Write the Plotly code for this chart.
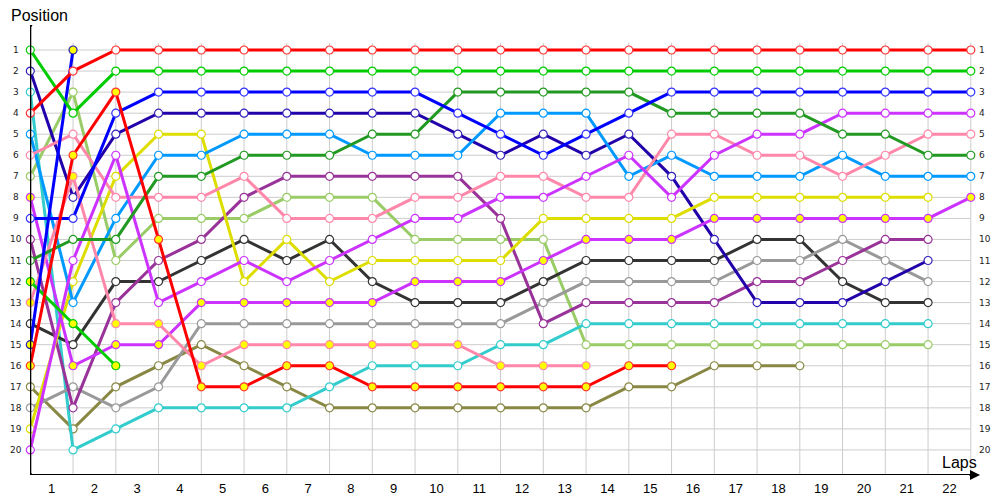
import plotly.graph_objects as go

# ---- data: position per lap (index 0 = start / lap 0) ----
lap_labels = [str(i) for i in range(1, 23)]
position_labels = [str(i) for i in range(1, 21)]

red = [4, 2, 1, 1, 1, 1, 1, 1, 1, 1, 1, 1, 1, 1, 1, 1, 1, 1, 1, 1, 1, 1, 1]
green = [1, 4, 2, 2, 2, 2, 2, 2, 2, 2, 2, 2, 2, 2, 2, 2, 2, 2, 2, 2, 2, 2, 2]
blue = [9, 9, 4, 3, 3, 3, 3, 3, 3, 3, 4, 5, 6, 5, 4, 3, 3, 3, 3, 3, 3, 3, 3]
magenta = [20, 11, 6, 13, 12, 11, 12, 11, 10, 9, 9, 8, 8, 7, 6, 8, 6, 5, 5, 4, 4, 4, 4]
pink = [6, 5, 8, 8, 8, 7, 9, 9, 9, 8, 8, 7, 7, 8, 8, 5, 5, 6, 6, 7, 6, 5, 5]
forest = [11, 10, 10, 7, 7, 6, 6, 6, 5, 5, 3, 3, 3, 3, 3, 4, 4, 4, 4, 5, 5, 6, 6]
light_blue = [5, 13, 9, 6, 6, 5, 5, 5, 6, 6, 6, 4, 4, 4, 7, 6, 7, 7, 7, 6, 7, 7, 7]
magenta_y = [8, 16, 15, 15, 13, 13, 13, 13, 13, 12, 12, 12, 11, 10, 10, 10, 9, 9, 9, 9, 9, 9, 8]
yellow = [19, 12, 7, 5, 5, 12, 10, 12, 11, 11, 11, 11, 9, 9, 9, 9, 8, 8, 8, 8, 8, 8]
purple = [10, 18, 13, 11, 10, 8, 7, 7, 7, 7, 7, 9, 14, 13, 13, 13, 13, 12, 12, 11, 10, 10]
dark_blue = [2, 8, 5, 4, 4, 4, 4, 4, 4, 4, 5, 6, 5, 6, 5, 7, 10, 13, 13, 13, 12, 11]
gray = [18, 17, 18, 17, 14, 14, 14, 14, 14, 14, 14, 14, 13, 12, 12, 12, 12, 11, 11, 10, 11, 12]
dark_gray = [14, 15, 12, 12, 11, 10, 11, 10, 12, 13, 13, 13, 12, 11, 11, 11, 11, 10, 10, 12, 13, 13]
cyan = [3, 20, 19, 18, 18, 18, 18, 17, 16, 16, 16, 15, 15, 14, 14, 14, 14, 14, 14, 14, 14, 14]
light_green = [7, 3, 11, 9, 9, 9, 8, 8, 8, 10, 10, 10, 10, 15, 15, 15, 15, 15, 15, 15, 15, 15]
olive = [17, 19, 17, 16, 15, 16, 17, 18, 18, 18, 18, 18, 18, 18, 17, 17, 16, 16, 16]
red_y = [16, 6, 3, 10, 17, 17, 16, 16, 17, 17, 17, 17, 17, 17, 16, 16]
pink_y = [13, 7, 14, 14, 16, 15, 15, 15, 15, 15, 15, 16, 16, 16]
green_y = [12, 14, 16]
blue_y = [15, 1]

# (series, line colour, marker edge colour, marker fill)
drivers = [
    (olive, "#888844", "#888844", "white"),
    (light_green, "#99CC66", "#99CC66", "white"),
    (cyan, "#33CCCC", "#33CCCC", "white"),
    (dark_gray, "#333333", "#333333", "white"),
    (gray, "#999999", "#999999", "white"),
    (purple, "#993399", "#993399", "white"),
    (dark_blue, "#2200AA", "#3322BB", "white"),
    (yellow, "#DDDD00", "#DDDD00", "white"),
    (magenta_y, "#CC33FF", "#CC33FF", "#FFFF00"),
    (light_blue, "#0099FF", "#0099FF", "white"),
    (pink, "#FF88AA", "#FF88AA", "white"),
    (pink_y, "#FF88AA", "#FF88AA", "#FFFF00"),
    (magenta, "#CC33FF", "#CC33FF", "white"),
    (forest, "#229922", "#229922", "white"),
    (green_y, "#00CC00", "#00CC00", "#FFFF00"),
    (blue_y, "#0000FF", "#2222AA", "#FFFF00"),
    (blue, "#0000FF", "#3333FF", "white"),
    (green, "#00CC00", "#00CC00", "white"),
    (red_y, "#FF0000", "#FF3333", "#FFFF00"),
    (red, "#FF0000", "#FF3333", "white"),
]

# ---- geometry ----
X0, X1 = -0.007, 22.215
Y_BOTTOM, Y_TOP = 21.19, -0.188
N_LAPS = len(lap_labels)
N_POS = len(position_labels)

fig = go.Figure()

for series, lc, ec, fill in drivers:
    fig.add_trace(go.Scatter(
        x=list(range(len(series))), y=series,
        mode="lines+markers",
        line=dict(color=lc, width=3),
        marker=dict(symbol="circle", size=8, color=fill, line=dict(color=ec, width=1.2)),
        hoverinfo="skip", showlegend=False, cliponaxis=False,
    ))

shapes = []
for p in range(1, N_POS + 1):
    shapes.append(dict(type="line", xref="x", yref="y", x0=0, x1=N_LAPS, y0=p, y1=p,
                       line=dict(color="#CCCCCC", width=1), layer="below"))
for k in range(1, N_LAPS + 1):
    shapes.append(dict(type="line", xref="x", yref="y", x0=k, x1=k, y0=0.66, y1=Y_BOTTOM,
                       line=dict(color="#CCCCCC", width=1), layer="below"))
shapes.append(dict(type="line", xref="x", yref="y", x0=0, x1=0, y0=Y_TOP, y1=Y_BOTTOM,
                   line=dict(color="black", width=2)))
shapes.append(dict(type="line", xref="x", yref="y", x0=0, x1=22.18, y0=Y_BOTTOM, y1=Y_BOTTOM,
                   line=dict(color="black", width=2)))
shapes.append(dict(type="circle", xref="x", yref="y", x0=-0.05, x1=0.05, y0=Y_TOP - 0.1, y1=Y_TOP + 0.1,
                   fillcolor="black", line=dict(color="black", width=0)))
shapes.append(dict(type="circle", xref="x", yref="y", x0=-0.05, x1=0.05, y0=Y_BOTTOM - 0.1, y1=Y_BOTTOM + 0.1,
                   fillcolor="black", line=dict(color="black", width=0)))

annotations = []
for i, t in enumerate(position_labels):
    p = i + 1
    annotations.append(dict(x=-0.015, xref="paper", y=p, yref="y", text=t, showarrow=False,
                            xanchor="center", yanchor="middle",
                            font=dict(family="DejaVu Sans", size=9, color="#222222")))
    annotations.append(dict(x=0.9965, xref="paper", y=p, yref="y", text=t, showarrow=False,
                            xanchor="left", yanchor="middle",
                            font=dict(family="DejaVu Sans", size=9, color="#222222")))
annotations.append(dict(x=22.215, y=Y_BOTTOM, xref="x", yref="y", ax=-12, ay=0, text="",
                        showarrow=True, arrowhead=2, arrowsize=1, arrowwidth=2, arrowcolor="black",
                        standoff=0))
annotations.append(dict(x=0.0, xref="paper", y=1.0, yref="paper", text="Position", showarrow=False,
                        xanchor="left", yanchor="bottom", xshift=-21, yshift=-1,
                        font=dict(family="Liberation Sans", size=16, color="black")))
annotations.append(dict(x=21.5, y=20.5, xref="x", yref="y", text="Laps", showarrow=False,
                        xanchor="center", yanchor="middle", xshift=10, yshift=-2,
                        font=dict(family="Liberation Sans", size=16, color="black")))

fig.update_layout(
    width=1000, height=500,
    margin=dict(l=22, r=28, t=17, b=25),
    paper_bgcolor="white", plot_bgcolor="white",
    xaxis=dict(range=[X0, X1], showgrid=False, zeroline=False, showline=False,
               tickmode="array", tickvals=[k - 0.5 for k in range(1, N_LAPS + 1)],
               ticktext=lap_labels, ticks="", ticklabelstandoff=4,
               tickfont=dict(family="Liberation Sans", size=13, color="black")),
    yaxis=dict(range=[Y_BOTTOM, Y_TOP], showgrid=False, zeroline=False, showline=False,
               showticklabels=False),
    shapes=shapes, annotations=annotations,
)

fig.write_html("out.html")
